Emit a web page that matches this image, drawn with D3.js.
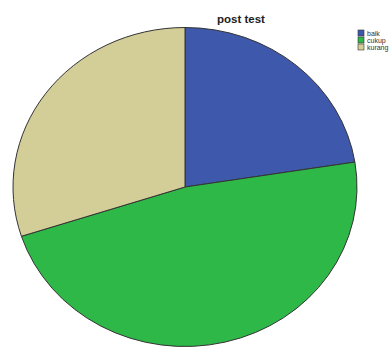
<!DOCTYPE html>
<html><head><meta charset="utf-8">
<script src="https://cdn.jsdelivr.net/npm/d3@7"></script>
<style>body{margin:0;background:#fff;}svg{display:block;}</style>
</head><body>
<svg id="c" width="390" height="347"></svg>
<script>
const categories = ["baik", "cukup", "kurang"];
const values = [9, 19, 12];
const colors = ["#3E58AC", "#2EB848", "#D3CD97"];
const title = "post test";

const svg = d3.select("#c");
const cx = 185, cy = 187, rx = 172, ry = 159.5;
const pie = d3.pie().sort(null).value(d => d)(values);
const arc = d3.arc().innerRadius(0).outerRadius(rx);
const g = svg.append("g").attr("transform", `translate(${cx},${cy}) scale(1,${ry/rx})`);
g.selectAll("path").data(pie).join("path")
  .attr("d", arc)
  .attr("fill", (d,i) => colors[i])
  .attr("stroke", "#333")
  .attr("stroke-width", 1)
  .attr("vector-effect", "non-scaling-stroke");

svg.append("text").attr("x", 241).attr("y", 23).attr("text-anchor", "middle")
  .attr("font-family", "Liberation Sans, Arial, sans-serif").attr("font-weight", "bold")
  .attr("font-size", 11.5).attr("fill", "#222").text(title);

const lg = svg.append("g").attr("transform", "translate(358,30)");
categories.forEach((c, i) => {
  const row = lg.append("g").attr("transform", `translate(0,${i*7})`);
  row.append("rect").attr("width", 6).attr("height", 6).attr("fill", colors[i])
    .attr("stroke", "#333").attr("stroke-width", 0.6);
  row.append("text").attr("x", 9).attr("y", 5.5).attr("font-size", 7)
    .attr("font-family", "Liberation Sans, Arial, sans-serif").attr("fill", "#333").text(c);
});
</script>
</body></html>
